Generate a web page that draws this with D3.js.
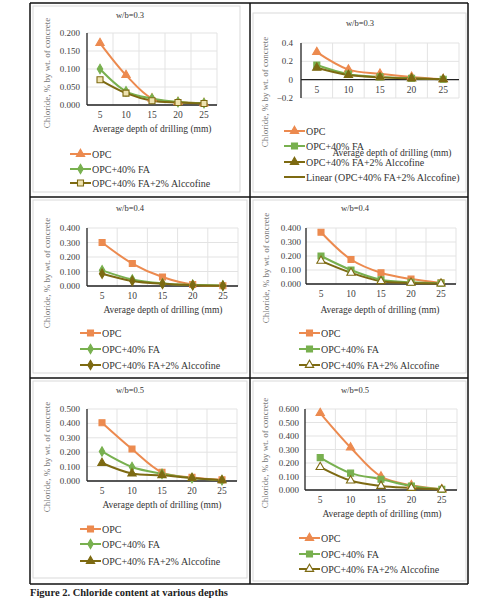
<!DOCTYPE html>
<html>
<head>
<meta charset="utf-8">
<script src="https://cdn.jsdelivr.net/npm/d3@7/dist/d3.min.js"></script>
<style>
  body { margin: 0; background: #fff; }
  svg text { font-family: "Liberation Serif", "DejaVu Serif", serif; }
</style>
</head>
<body>
<svg id="fig" width="504" height="600"></svg>
<script>
const depths = ["5", "10", "15", "20", "25"];
const panelTitles = ["w/b=0.3", "w/b=0.3", "w/b=0.4", "w/b=0.4", "w/b=0.5", "w/b=0.5"];
const seriesLabels = ["OPC", "OPC+40% FA", "OPC+40% FA+2% Alccofine"];
const trendLabel = "Linear (OPC+40% FA+2% Alccofine)";
const yTitle = "Chloride, % by wt. of concrete";
const xTitle = "Average depth of drilling (mm)";
const caption = "Figure 2. Chloride content at various depths";

const opcValues = [
  [0.172, 0.083, 0.018, 0.008, 0.005],
  [0.300, 0.110, 0.065, 0.030, 0.005],
  [0.300, 0.155, 0.062, 0.010, 0.002],
  [0.370, 0.175, 0.080, 0.035, 0.008],
  [0.405, 0.222, 0.060, 0.025, 0.008],
  [0.570, 0.315, 0.100, 0.035, 0.005]
];
const faValues = [
  [0.100, 0.038, 0.018, 0.008, 0.005],
  [0.160, 0.060, 0.030, 0.015, 0.005],
  [0.108, 0.045, 0.018, 0.008, 0.003],
  [0.200, 0.100, 0.030, 0.012, 0.006],
  [0.205, 0.097, 0.050, 0.020, 0.005],
  [0.240, 0.125, 0.080, 0.030, 0.005]
];
const alcValues = [
  [0.070, 0.033, 0.012, 0.007, 0.004],
  [0.130, 0.050, 0.025, 0.012, 0.005],
  [0.085, 0.035, 0.015, 0.006, 0.002],
  [0.165, 0.080, 0.020, 0.008, 0.003],
  [0.125, 0.052, 0.040, 0.020, 0.005],
  [0.170, 0.070, 0.030, 0.015, 0.003]
];
const yTickValues = [
  [0, 0.05, 0.1, 0.15, 0.2],
  [-0.2, 0, 0.2, 0.4],
  [0, 0.1, 0.2, 0.3, 0.4],
  [0, 0.1, 0.2, 0.3, 0.4],
  [0, 0.1, 0.2, 0.3, 0.4, 0.5],
  [0, 0.1, 0.2, 0.3, 0.4, 0.5, 0.6]
];
const markerShapes = [
  ["triangle", "diamond", "squareOpen"],
  ["triangle", "square", "triangle"],
  ["square", "diamond", "diamond"],
  ["square", "square", "triangleOpen"],
  ["square", "diamond", "triangle"],
  ["triangle", "square", "triangleOpen"]
];

const colors = ["#ec8a4f", "#78b04f", "#7d6a12"];
const serif = "'Liberation Serif', 'DejaVu Serif', serif";

// geometry of each panel (plot box, text anchors)
const layout = [
  { x0: 87, x1: 217, yTop: 33, yBot: 105, tx: 130, ty: 18, lab: 7, xt: [152, 132], yt: [50, 73], lx: 70, ly: [154, 169, 183], frame: [33, 6, 240, 192] },
  { x0: 301, x1: 459, yTop: 43, yBot: 98, tx: 360, ty: 26, lab: 8, xt: [392, 156], yt: [268, 92], lx: 284, ly: [131, 146, 162, 177], frame: [253, 13, 466, 192] },
  { x0: 87, x1: 238, yTop: 228, yBot: 286, tx: 130, ty: 211, lab: 7, xt: [163, 313], yt: [50, 273], lx: 80, ly: [333, 349, 365], frame: [33, 200, 247, 373] },
  { x0: 306, x1: 456, yTop: 228, yBot: 284, tx: 355, ty: 211, lab: 5, xt: [380, 313], yt: [269, 268], lx: 299, ly: [333, 349, 365], frame: [253, 200, 466, 373] },
  { x0: 87, x1: 237, yTop: 409, yBot: 481, tx: 130, ty: 393, lab: 7, xt: [162, 508], yt: [50, 457], lx: 80, ly: [529, 544, 561], frame: [33, 381, 247, 578] },
  { x0: 305, x1: 457, yTop: 409, yBot: 490, tx: 355, ty: 393, lab: 6, xt: [382, 517], yt: [268, 453], lx: 299, ly: [538, 554, 569], frame: [253, 381, 466, 581] }
];

const svg = d3.select("#fig");

function symbolFor(name) {
  if (name.startsWith("triangle")) return d3.symbol().type(d3.symbolTriangle).size(30)();
  if (name.startsWith("diamond")) return d3.symbol().type(d3.symbolDiamond).size(26)();
  return d3.symbol().type(d3.symbolSquare).size(36)();
}

function markerFill(name, color) {
  if (name === "squareOpen") return "#efe3b0";
  if (name === "triangleOpen") return "#fff";
  return color;
}

function drawPanel(i) {
  const L = layout[i];
  const g = svg.append("g");
  const ticks = yTickValues[i];

  g.append("rect")
    .attr("x", L.frame[0]).attr("y", L.frame[1])
    .attr("width", L.frame[2] - L.frame[0]).attr("height", L.frame[3] - L.frame[1])
    .attr("fill", "none").attr("stroke", "#d9d9d9").attr("stroke-width", 1);

  const x = d3.scaleBand().domain(depths).range([L.x0, L.x1]);
  const y = d3.scaleLinear().domain(d3.extent(ticks)).range([L.yBot, L.yTop]);

  // gridlines
  g.selectAll(".hg").data(ticks).join("line")
    .attr("x1", L.x0).attr("x2", L.x1)
    .attr("y1", d => y(d)).attr("y2", d => y(d))
    .attr("stroke", "#e3e3e3");
  g.selectAll(".vg").data(depths).join("line")
    .attr("x1", d => x(d) + x.bandwidth()).attr("x2", d => x(d) + x.bandwidth())
    .attr("y1", L.yTop).attr("y2", L.yBot)
    .attr("stroke", "#e3e3e3");

  // axes lines
  g.append("line")
    .attr("x1", L.x0).attr("x2", L.x0).attr("y1", L.yTop).attr("y2", L.yBot)
    .attr("stroke", "#222").attr("stroke-width", 1.3);
  g.append("line")
    .attr("x1", L.x0).attr("x2", L.x1).attr("y1", y(0)).attr("y2", y(0))
    .attr("stroke", "#222").attr("stroke-width", 1.3);

  const fmt = i === 1 ? d3.format("") : d3.format(".3f");
  g.selectAll(".yl").data(ticks).join("text")
    .attr("x", L.x0 - L.lab).attr("y", d => y(d) + 3)
    .attr("text-anchor", "end")
    .attr("fill", "#404040")
    .style("font-family", serif)
    .style("font-size", "9px")
    .text(d => fmt(d));

  const xLabY = (i === 1 ? y(0) : L.yBot) + 13;
  g.selectAll(".xl").data(depths).join("text")
    .attr("x", d => x(d) + x.bandwidth() / 2).attr("y", xLabY)
    .attr("text-anchor", "middle")
    .attr("fill", "#404040")
    .style("font-family", serif)
    .style("font-size", "9.5px")
    .text(d => d);

  g.append("text")
    .attr("x", L.tx).attr("y", L.ty)
    .attr("text-anchor", "middle")
    .attr("fill", "#333")
    .style("font-family", serif)
    .style("font-size", "8.5px")
    .text(panelTitles[i]);

  g.append("text")
    .attr("x", L.xt[0]).attr("y", L.xt[1])
    .attr("text-anchor", "middle")
    .attr("fill", "#333")
    .style("font-family", serif)
    .style("font-size", "9.5px")
    .text(xTitle);

  g.append("text")
    .attr("transform", `translate(${L.yt[0]},${L.yt[1]}) rotate(-90)`)
    .attr("text-anchor", "middle")
    .attr("fill", "#777")
    .style("font-family", serif)
    .style("font-size", "9px")
    .text(yTitle);

  const line = d3.line()
    .x((d, j) => x(depths[j]) + x.bandwidth() / 2)
    .y(d => y(d))
    .curve(d3.curveCatmullRom.alpha(0.5));

  const series = [opcValues[i], faValues[i], alcValues[i]];
  series.forEach((vals, s) => {
    g.append("path")
      .attr("d", line(vals))
      .attr("fill", "none")
      .attr("stroke", colors[s])
      .attr("stroke-width", 2);
  });
  series.forEach((vals, s) => {
    const shape = markerShapes[i][s];
    g.selectAll(null).data(vals).join("path")
      .attr("transform", (d, j) => `translate(${x(depths[j]) + x.bandwidth() / 2},${y(d)})`)
      .attr("d", symbolFor(shape))
      .attr("fill", markerFill(shape, colors[s]))
      .attr("stroke", colors[s])
      .attr("stroke-width", 1.1);
  });

  // legend
  const labels = i === 1 ? seriesLabels.concat([trendLabel]) : seriesLabels;
  labels.forEach((lab, k) => {
    const ly = L.ly[k];
    const c = colors[Math.min(k, 2)];
    g.append("line")
      .attr("x1", L.lx).attr("x2", L.lx + 21)
      .attr("y1", ly).attr("y2", ly)
      .attr("stroke", c).attr("stroke-width", 2);
    if (k < 3) {
      const shape = markerShapes[i][k];
      g.append("path")
        .attr("transform", `translate(${L.lx + 10.5},${ly})`)
        .attr("d", symbolFor(shape))
        .attr("fill", markerFill(shape, c))
        .attr("stroke", c)
        .attr("stroke-width", 1.1);
    }
    g.append("text")
      .attr("x", L.lx + 22).attr("y", ly + 3.5)
      .attr("fill", "#333")
      .style("font-family", serif)
      .style("font-size", "10px")
      .text(lab);
  });
}

d3.range(6).forEach(drawPanel);

// table borders
const vx = [30, 250, 468];
const hy = [3, 197, 378, 584];
svg.selectAll(".vb").data(vx).join("line")
  .attr("x1", d => d).attr("x2", d => d).attr("y1", hy[0]).attr("y2", hy[3])
  .attr("stroke", "#111").attr("stroke-width", 1.5);
svg.selectAll(".hb").data(hy).join("line")
  .attr("x1", vx[0]).attr("x2", vx[2]).attr("y1", d => d).attr("y2", d => d)
  .attr("stroke", "#111").attr("stroke-width", 1.5);

svg.append("text")
  .attr("x", 30).attr("y", 596)
  .attr("fill", "#222")
  .style("font-family", serif)
  .style("font-size", "10.5px")
  .style("font-weight", "bold")
  .text(caption);
</script>
</body>
</html>
